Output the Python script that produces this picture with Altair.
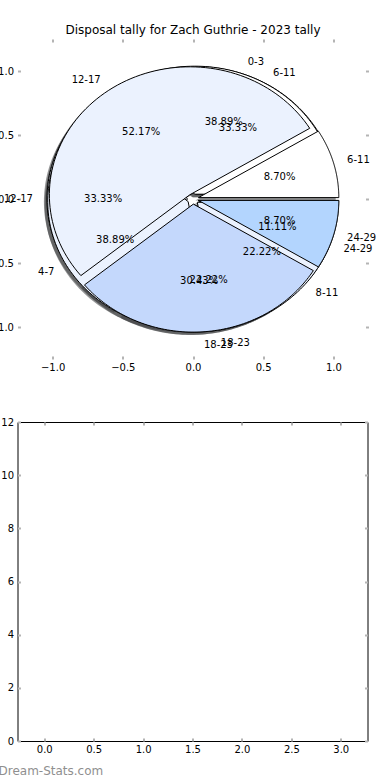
import altair as alt
import pandas as pd

FONT = "DejaVu Sans"
TITLE = "Disposal tally for Zach Guthrie - 2023 tally"
WATERMARK = "Dream-Stats.com"

# three pies drawn on the same axes (pie 1 is on top)
pie1_labels = ["6-11", "12-17", "18-23", "24-29"]
pie1_values = [2, 12, 7, 2]
pie2_labels = ["0-3", "4-7", "8-11"]
pie2_values = [7, 7, 4]
pie3_labels = ["6-11", "12-17", "18-23", "24-29"]
pie3_values = [6, 6, 4, 2]

color_labels = ["0-3", "4-7", "6-11", "8-11", "12-17", "18-23", "24-29"]
color_values = ["#ffffff", "#ebf2fe", "#ffffff", "#ebf2fe", "#ebf2fe", "#c4d8fc", "#b3d5fe"]

pie_ticks = [-1.0, -0.5, 0.0, 0.5, 1.0]
bar_x_ticks = [0.0, 0.5, 1.0, 1.5, 2.0, 2.5, 3.0]
bar_y_ticks = [0, 2, 4, 6, 8, 10, 12]

EXPLODE = 0.04
N = 90
SHADOW_DX = -0.022
SHADOW_DY = -0.022
TICK_COLOR = "#b4b4b4"

rows = []
for pid, labs, vals in [(1, pie1_labels, pie1_values), (2, pie2_labels, pie2_values), (3, pie3_labels, pie3_values)]:
    for i, (lab, val) in enumerate(zip(labs, vals)):
        rows.append({"pie": pid, "order": i, "label": lab, "value": val, "wid": f"{pid}-{i}"})
wedges = pd.DataFrame(rows)

XS = alt.Scale(domain=[-1.25, 1.25], nice=False, zero=False)
YS = alt.Scale(domain=[-1.25, 1.25], nice=False, zero=False)
FILL = alt.Fill("label:N", scale=alt.Scale(domain=color_labels, range=color_values), legend=None)


def axis_main(values, fmt, orient, pad):
    return alt.Axis(orient=orient, values=values, format=fmt, title=None, domain=False, grid=False,
                    ticks=True, tickSize=3, tickWidth=2, tickColor=TICK_COLOR, offset=-3,
                    labelPadding=pad, labelFontSize=10, labelFont=FONT, labelColor="black",
                    labelFlush=False, labelOverlap=False)


def axis_ticks(values, orient):
    return alt.Axis(orient=orient, values=values, title=None, domain=False, grid=False, labels=False,
                    ticks=True, tickSize=3, tickWidth=2, tickColor=TICK_COLOR, offset=-3)


def xy(xf, yf, mode):
    if mode == "main":
        return dict(x=alt.X(f"{xf}:Q", scale=XS, axis=axis_main(pie_ticks, ".1f", "bottom", 3)),
                    y=alt.Y(f"{yf}:Q", scale=YS, axis=axis_main(pie_ticks, ".1f", "left", 4)))
    if mode == "ticks":
        return dict(x=alt.X(f"{xf}:Q", scale=XS, axis=axis_ticks(pie_ticks, "top")),
                    y=alt.Y(f"{yf}:Q", scale=YS, axis=axis_ticks(pie_ticks, "right")))
    return dict(x=alt.X(f"{xf}:Q", scale=XS, axis=None), y=alt.Y(f"{yf}:Q", scale=YS, axis=None))


base = alt.Chart(wedges).transform_joinaggregate(
    total="sum(value)", groupby=["pie"]
).transform_window(
    cum="sum(value)", sort=[alt.SortField("order", order="ascending")], groupby=["pie"], frame=[None, 0]
).transform_calculate(
    a0="2*PI*(datum.cum - datum.value)/datum.total",
    a1="2*PI*datum.cum/datum.total",
    mid="PI*(2*datum.cum - datum.value)/datum.total",
    cx=f"{EXPLODE}*cos(PI*(2*datum.cum - datum.value)/datum.total)",
    cy=f"{EXPLODE}*sin(PI*(2*datum.cum - datum.value)/datum.total)",
    pct="format(100*datum.value/datum.total, '.2f') + '%'",
)

poly = base.transform_calculate(
    steps=f"sequence(0, {N + 3})"
).transform_flatten(["steps"], as_=["k"]).transform_calculate(
    px="datum.cx + ((datum.k > 0 && datum.k < %d) ? cos(datum.a0 + (datum.a1 - datum.a0)*(datum.k - 1)/%d) : 0)" % (N + 2, N),
    py="datum.cy + ((datum.k > 0 && datum.k < %d) ? sin(datum.a0 + (datum.a1 - datum.a0)*(datum.k - 1)/%d) : 0)" % (N + 2, N),
    sx=f"datum.cx + {SHADOW_DX} + ((datum.k > 0 && datum.k < {N + 2}) ? cos(datum.a0 + (datum.a1 - datum.a0)*(datum.k - 1)/{N}) : 0)",
    sy=f"datum.cy + {SHADOW_DY} + ((datum.k > 0 && datum.k < {N + 2}) ? sin(datum.a0 + (datum.a1 - datum.a0)*(datum.k - 1)/{N}) : 0)",
)

shadow_layer = poly.mark_line(fill="#3c3e40", fillOpacity=0.55, stroke="transparent", strokeWidth=0).encode(
    order="k:Q", detail="wid:N", **xy("sx", "sy", "main")
)


def wedge_layer(pid, mode):
    return poly.transform_filter(f"datum.pie == {pid}").mark_line(
        stroke="black", strokeWidth=1, strokeJoin="miter"
    ).encode(order="k:Q", detail="wid:N", fill=FILL, **xy("px", "py", mode))


texts = base.transform_calculate(
    lx="datum.cx + 1.1*cos(datum.mid)",
    ly="datum.cy + 1.1*sin(datum.mid)",
    qx="datum.cx + 0.6*cos(datum.mid)",
    qy="datum.cy + 0.6*sin(datum.mid)",
)
tstyle = dict(baseline="middle", fontSize=10, font=FONT, color="black")
label_left_side = texts.transform_filter("datum.lx <= 0").mark_text(align="right", **tstyle).encode(
    text="label:N", **xy("lx", "ly", "none"))
label_right_side = texts.transform_filter("datum.lx > 0").mark_text(align="left", **tstyle).encode(
    text="label:N", **xy("lx", "ly", "none"))
pct_layer = texts.mark_text(align="center", **tstyle).encode(text="pct:N", **xy("qx", "qy", "none"))

pie_panel = alt.layer(
    shadow_layer,
    wedge_layer(3, "ticks"),
    wedge_layer(2, "none"),
    wedge_layer(1, "none"),
    pct_layer,
    label_left_side,
    label_right_side,
).resolve_axis(x="independent", y="independent").properties(
    width=351, height=320,
    title=alt.Title(TITLE, fontSize=12, font=FONT, fontWeight="normal", color="black", anchor="middle", offset=1),
    view=alt.ViewBackground(stroke="transparent"),
)

# empty bar panel
empty = pd.DataFrame({"bx": pd.Series([], dtype=float), "by": pd.Series([], dtype=float)})
BX = alt.Scale(domain=[-0.22, 3.22], nice=False, zero=False)
BY = alt.Scale(domain=[0, 12], nice=False, zero=False)
bar_main = alt.Chart(empty).mark_bar().encode(
    x=alt.X("bx:Q", scale=BX, axis=axis_main(bar_x_ticks, ".1f", "bottom", 3)),
    y=alt.Y("by:Q", scale=BY, axis=axis_main(bar_y_ticks, "d", "left", 4)),
)
bar_ticks = alt.Chart(empty).mark_bar().encode(
    x=alt.X("bx:Q", scale=BX, axis=axis_ticks(bar_x_ticks, "top")),
    y=alt.Y("by:Q", scale=BY, axis=axis_ticks(bar_y_ticks, "right")),
)
mark_df = pd.DataFrame({"t": [WATERMARK]})
watermark = alt.Chart(mark_df).mark_text(
    align="left", baseline="middle", fontSize=12, font=FONT, color="#8f8f8f"
).encode(text="t:N", x=alt.value(-19), y=alt.value(349))

bar_panel = alt.layer(bar_main, bar_ticks, watermark).resolve_axis(
    x="independent", y="independent"
).properties(width=350, height=319, view=alt.ViewBackground(stroke="black", strokeWidth=1))

chart = alt.vconcat(pie_panel, bar_panel, spacing=63, bounds="flush").properties(
    padding={"left": -11.5, "top": 23, "right": 0, "bottom": 0},
    background="white",
).configure(font=FONT)

chart.save("out.html", embed_options={"renderer": "svg", "actions": False})
